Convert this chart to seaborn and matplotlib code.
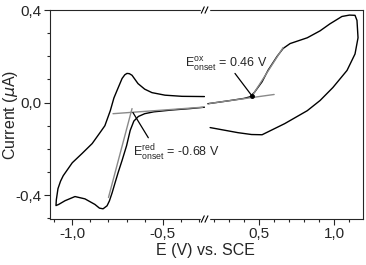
import numpy as np
import pandas as pd
import matplotlib
matplotlib.use("Agg")
import matplotlib.pyplot as plt
from matplotlib.ticker import MultipleLocator, FuncFormatter
import seaborn as sns

# Reduction scan (left part)
E_red = [-0.27, -0.35, -0.45, -0.55, -0.60, -0.635, -0.66, -0.68, -0.70, -0.725,
         -0.747, -0.765, -0.78, -0.795, -0.808, -0.83, -0.85, -0.875, -0.93, -0.985,
         -1.04, -1.075, -1.09, -1.088, -1.079, -1.065, -1.05, -1.0, -0.946, -0.89,
         -0.847, -0.82, -0.79, -0.77, -0.753, -0.725, -0.71, -0.698, -0.685, -0.67,
         -0.637, -0.60, -0.56, -0.488, -0.394, -0.27]
I_red = [-0.02, -0.026, -0.032, -0.04, -0.048, -0.06, -0.08, -0.12, -0.186, -0.25,
         -0.303, -0.35, -0.39, -0.425, -0.446, -0.459, -0.456, -0.44, -0.416, -0.406,
         -0.424, -0.44, -0.445, -0.42, -0.372, -0.34, -0.316, -0.26, -0.22, -0.177,
         -0.13, -0.10, -0.035, 0.02, 0.052, 0.104, 0.12, 0.126, 0.125, 0.118,
         0.082, 0.058, 0.043, 0.032, 0.027, 0.026]

# Oxidation scan (right part)
E_ox = [0.16, 0.30, 0.40, 0.44, 0.47, 0.52, 0.56, 0.62, 0.66, 0.706, 0.82, 0.905,
        0.97, 1.05, 1.10, 1.137, 1.15, 1.157, 1.137, 1.084, 0.99, 0.905, 0.82,
        0.67, 0.52, 0.45, 0.36, 0.175]
I_ox = [-0.005, 0.008, 0.018, 0.025, 0.045, 0.09, 0.14, 0.20, 0.234, 0.255, 0.28,
        0.31, 0.34, 0.372, 0.378, 0.377, 0.355, 0.28, 0.21, 0.139, 0.065, 0.009,
        -0.035, -0.091, -0.139, -0.138, -0.13, -0.108]

# tangent lines used for the onset
red_base_E = [-0.775, -0.28]
red_base_I = [-0.048, -0.02]
red_slope_E = [-0.67, -0.80]
red_slope_I = [-0.026, -0.41]
ox_base_E = [0.168, 0.60]
ox_base_I = [-0.004, 0.035]
ox_slope_E = [0.447, 0.66]
ox_slope_I = [0.022, 0.238]

# arrows from the labels to the onset points
red_arrow_E = [-0.58, -0.665]
red_arrow_I = [-0.152, -0.043]
ox_arrow_E = [0.34, 0.455]
ox_arrow_I = [0.126, 0.027]

onset_red = -0.68
onset_ox = 0.46

sns.set_style("ticks")
plt.rcParams['font.family'] = ['Liberation Sans', 'DejaVu Sans']
plt.rcParams['mathtext.fontset'] = 'custom'
plt.rcParams['mathtext.rm'] = 'Liberation Sans'

fig = plt.figure(figsize=(3.66, 2.65), dpi=100)
ax1 = fig.add_axes([50/366, 1-219/265, 155/366, 209/265])
ax2 = fig.add_axes([205/366, 1-219/265, 158/366, 209/265])

red = pd.DataFrame({"E": E_red, "I": I_red})
ox = pd.DataFrame({"E": E_ox, "I": I_ox})

grey = "#8a8a8a"
sns.lineplot(data=red, x="E", y="I", sort=False, estimator=None, color="black", lw=1.0, ax=ax1)
sns.lineplot(x=red_base_E, y=red_base_I, sort=False, estimator=None, color=grey, lw=1.0, ax=ax1)
sns.lineplot(x=red_slope_E, y=red_slope_I, sort=False, estimator=None, color=grey, lw=1.0, ax=ax1)
sns.lineplot(x=red_arrow_E, y=red_arrow_I, sort=False, estimator=None, color="black", lw=0.9, ax=ax1)

sns.lineplot(data=ox, x="E", y="I", sort=False, estimator=None, color="black", lw=1.0, ax=ax2)
sns.lineplot(x=ox_base_E, y=ox_base_I, sort=False, estimator=None, color=grey, lw=1.0, ax=ax2)
sns.lineplot(x=ox_slope_E, y=ox_slope_I, sort=False, estimator=None, color=grey, lw=1.0, ax=ax2)
sns.lineplot(x=ox_arrow_E, y=ox_arrow_I, sort=False, estimator=None, color="black", lw=0.9, ax=ax2)
ax2.plot([ox_arrow_E[1]], [ox_arrow_I[1]], "o", color="black", ms=2.5)

ax1.set_xlim(-1.123, -0.267)
ax2.set_xlim(0.141, 1.19)
for ax in (ax1, ax2):
    ax.set_ylim(-0.503, 0.4)
    ax.set_xlabel("")
    ax.set_ylabel("")
    ax.xaxis.set_minor_locator(MultipleLocator(0.1))
    ax.tick_params(which="major", direction="out", length=4, width=0.8, labelsize=11, pad=2)
    ax.tick_params(which="minor", direction="out", length=2.5, width=0.8)
    for s in ax.spines.values():
        s.set_linewidth(0.8)


def comma(v, pos):
    return ("%.1f" % v).replace(".", ",")


ax1.set_xticks([-1.0, -0.5])
ax2.set_xticks([0.5, 1.0])
ax1.set_yticks([-0.4, 0.0, 0.4])
ax1.yaxis.set_minor_locator(MultipleLocator(0.1))
ax1.xaxis.set_major_formatter(FuncFormatter(comma))
ax2.xaxis.set_major_formatter(FuncFormatter(comma))
ax1.yaxis.set_major_formatter(FuncFormatter(comma))

ax1.spines["right"].set_visible(False)
ax2.spines["left"].set_visible(False)
ax2.tick_params(axis="y", which="both", left=False, labelleft=False)

# break marks
bx = 205/366
for yb in (1-10/265, 1-219/265):
    fig.add_artist(plt.Rectangle((bx-0.012, yb-0.01), 0.024, 0.02, transform=fig.transFigure,
                                 color="white", zorder=5))
    for dx in (-0.006, 0.004):
        fig.add_artist(plt.Line2D([bx+dx-0.004, bx+dx+0.004], [yb-0.012, yb+0.012],
                                  transform=fig.transFigure, color="black", lw=0.8, zorder=6))

fig.text(11/366, 1-115/265, r"Current ($\mu$A)", rotation=90, ha="center", va="center", fontsize=11.5)
fig.text(205/366, 1-250/265, "E (V) vs. SCE", ha="center", va="center", fontsize=11.5)

fig.text(185/366, 1-64/265, r"$\mathregular{E^{ox}_{onset}}$ = %.2f V" % onset_ox,
         ha="left", va="center", fontsize=9)
fig.text(133/366, 1-153/265, r"$\mathregular{E^{red}_{onset}}$ = %.2f V" % onset_red,
         ha="left", va="center", fontsize=9)

fig.savefig("out.png", dpi=100)
